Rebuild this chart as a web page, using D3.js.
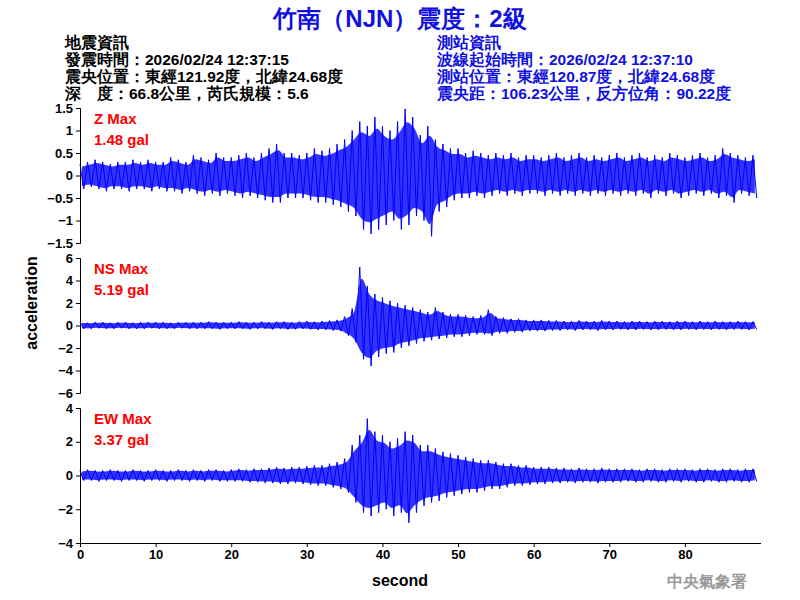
<!DOCTYPE html>
<html><head><meta charset="utf-8">
<script src="https://cdn.jsdelivr.net/npm/d3@7"></script>
<style>body{margin:0;background:#fff}text{font-family:"Liberation Sans",Arial,sans-serif}</style>
</head><body><svg id="c" width="800" height="600"></svg>
<script>
// per-second envelope (max / min), seconds 0..89
const seconds = d3.range(90);
const zHi = [.25,.3,.35,.3,.25,.3,.3,.35,.3,.35, .3,.3,.4,.35,.3,.45,.4,.35,.5,.4, .4,.45,.5,.4,.5,.6,.7,.5,.5,.45, .5,.6,.55,.6,.7,.8,1.0,1.2,1.1,1.3, 1.1,1.0,1.2,1.48,1.3,.9,1.1,.8,.7,.6, .6,.5,.55,.5,.45,.5,.45,.5,.4,.45, .45,.4,.45,.5,.4,.45,.5,.4,.45,.4, .45,.5,.4,.45,.5,.4,.45,.4,.5,.45, .4,.45,.5,.4,.45,.6,.5,.45,.4,.45];
const zLo = [-.3,-.25,-.3,-.35,-.3,-.3,-.35,-.3,-.3,-.35, -.3,-.35,-.35,-.4,-.35,-.4,-.45,-.4,-.45,-.4, -.45,-.5,-.45,-.5,-.55,-.6,-.6,-.5,-.5,-.5, -.55,-.6,-.6,-.65,-.7,-.8,-.9,-1.2,-1.3,-1.2, -1.1,-1.0,-1.2,-1.1,-.9,-1.0,-1.35,-.8,-.7,-.55, -.5,-.5,-.45,-.5,-.45,-.4,-.45,-.4,-.45,-.4, -.4,-.45,-.4,-.45,-.4,-.45,-.4,-.45,-.4,-.45, -.4,-.45,-.4,-.45,-.4,-.5,-.4,-.45,-.4,-.5, -.45,-.4,-.45,-.4,-.5,-.45,-.6,-.4,-.45,-.5];
const nsHi = [.3,.25,.3,.3,.25,.3,.3,.25,.3,.3, .3,.3,.25,.3,.3,.3,.3,.35,.3,.3, .3,.35,.3,.3,.35,.3,.35,.35,.3,.35, .4,.35,.4,.45,.5,.8,1.5,5.19,3.5,2.8, 2.5,2.2,2.0,1.8,1.6,1.4,1.2,1.6,1.2,1.0, 1.0,.9,.8,.9,1.4,.8,.7,.6,.6,.5, .5,.5,.45,.45,.4,.4,.45,.4,.4,.45, .4,.4,.35,.4,.4,.35,.4,.4,.35,.4, .4,.35,.4,.35,.4,.35,.35,.4,.35,.35];
const nsLo = [-.3,-.3,-.25,-.3,-.3,-.25,-.3,-.3,-.3,-.25, -.3,-.3,-.3,-.25,-.3,-.3,-.3,-.3,-.35,-.3, -.3,-.3,-.35,-.3,-.3,-.35,-.3,-.35,-.35,-.3, -.35,-.4,-.4,-.45,-.5,-.9,-1.5,-3.0,-3.6,-2.8, -2.5,-2.4,-2.0,-1.8,-1.6,-1.4,-1.3,-1.2,-1.1,-1.0, -1.0,-.9,-.8,-.8,-.9,-.7,-.7,-.6,-.6,-.5, -.5,-.5,-.45,-.45,-.4,-.45,-.4,-.4,-.45,-.4, -.4,-.35,-.4,-.4,-.35,-.4,-.4,-.35,-.4,-.4, -.35,-.4,-.35,-.4,-.35,-.4,-.35,-.35,-.4,-.35];
const ewHi = [.3,.35,.3,.3,.35,.3,.3,.35,.3,.3, .35,.3,.3,.35,.3,.35,.3,.35,.35,.3, .35,.4,.35,.4,.4,.45,.5,.45,.5,.5, .55,.6,.6,.7,.8,1.0,1.8,2.4,3.37,2.6, 2.4,2.0,2.2,2.6,2.4,1.8,1.8,1.6,1.4,1.3, 1.2,1.1,1.0,.9,.9,.8,.7,.7,.6,.6, .5,.5,.5,.45,.45,.4,.45,.4,.4,.45, .4,.4,.4,.4,.35,.4,.4,.35,.4,.4, .4,.35,.4,.4,.35,.4,.4,.35,.4,.4];
const ewLo = [-.3,-.3,-.35,-.3,-.3,-.35,-.3,-.3,-.35,-.3, -.3,-.35,-.3,-.3,-.35,-.3,-.35,-.3,-.35,-.35, -.35,-.35,-.4,-.4,-.45,-.45,-.5,-.5,-.45,-.5, -.55,-.6,-.6,-.7,-.8,-1.0,-1.6,-2.2,-2.4,-2.2, -2.0,-2.4,-2.2,-2.8,-2.2,-1.8,-1.6,-1.5,-1.3,-1.2, -1.1,-1.0,-1.0,-.9,-.8,-.8,-.7,-.6,-.6,-.55, -.5,-.5,-.45,-.45,-.4,-.45,-.4,-.4,-.45,-.4, -.4,-.4,-.35,-.4,-.4,-.35,-.4,-.4,-.35,-.4, -.35,-.4,-.4,-.35,-.4,-.4,-.35,-.4,-.4,-.35];
const xTicks = [0,10,20,30,40,50,60,70,80];
const zTicks = [-1.5,-1,-0.5,0,0.5,1,1.5];
const nsTicks = [-6,-4,-2,0,2,4,6];
const ewTicks = [-4,-2,0,2,4];
const panels = [
 {name:"Z Max", max:"1.48 gal", hi:zHi, lo:zLo, dom:[-1.5,1.5], ticks:zTicks, top:108, bot:243},
 {name:"NS Max", max:"5.19 gal", hi:nsHi, lo:nsLo, dom:[-6,6], ticks:nsTicks, top:258, bot:393},
 {name:"EW Max", max:"3.37 gal", hi:ewHi, lo:ewLo, dom:[-4,4], ticks:ewTicks, top:408, bot:543}
];
const leftInfo = ["地震資訊","發震時間：2026/02/24 12:37:15","震央位置：東經121.92度，北緯24.68度","深　度：66.8公里，芮氏規模：5.6"];
const rightInfo = ["測站資訊","波線起始時間：2026/02/24 12:37:10","測站位置：東經120.87度，北緯24.68度","震央距：106.23公里，反方位角：90.22度"];

const svg = d3.select("#c");
const x = d3.scaleLinear().domain([0,90]).range([80,760.5]);
svg.append("text").attr("x",400).attr("y",27).attr("text-anchor","middle").attr("fill","#1010e0")
 .attr("font-size",24).attr("font-weight","bold").text("竹南（NJN）震度：2級");
leftInfo.forEach((t,i)=>svg.append("text").attr("x",65).attr("y",48+i*17).attr("font-size",15.5).attr("font-weight","bold").attr("fill","#000").text(t));
rightInfo.forEach((t,i)=>svg.append("text").attr("x",437).attr("y",48+i*17).attr("font-size",15.5).attr("font-weight","bold").attr("fill","#1010e0").text(t));

panels.forEach((p,k)=>{
 const y = d3.scaleLinear().domain(p.dom).range([p.bot,p.top]);
 const band = seconds.map(s=>({t:s+0.25, hi:p.hi[s]*0.8, lo:p.lo[s]*0.8}));
 svg.append("path").attr("d",d3.area().x(d=>x(d.t)).y0(d=>y(d.lo)).y1(d=>y(d.hi)).curve(d3.curveMonotoneX)(band))
  .attr("fill","#0000ff").attr("opacity",0.8);
 const pts=[];
 seconds.forEach(s=>{pts.push([s,p.hi[s]]);pts.push([s+0.5,p.lo[s]]);});
 svg.append("path").attr("d",d3.line().x(d=>x(d[0])).y(d=>y(d[1]))(pts))
  .attr("fill","none").attr("stroke","#0000ff").attr("stroke-width",1);
 const ax = svg.append("g").attr("transform","translate(80,0)").call(d3.axisLeft(y).tickValues(p.ticks).tickSize(4).tickFormat(d3.format("~g")));
 ax.selectAll("text").attr("font-size",13).attr("font-weight","bold").attr("fill","#000");
 ax.select(".domain").attr("stroke","#000");
 svg.append("text").attr("x",94).attr("y",p.top+16).attr("fill","#ff0000").attr("font-size",15).attr("font-weight","bold").text(p.name);
 svg.append("text").attr("x",94).attr("y",p.top+37).attr("fill","#ff0000").attr("font-size",15).attr("font-weight","bold").text(p.max);
});
const xa = svg.append("g").attr("transform","translate(0,543)").call(d3.axisBottom(x).tickValues(xTicks).tickSize(4).tickSizeOuter(0));
xa.selectAll("text").attr("font-size",13).attr("font-weight","bold").attr("fill","#000");
svg.append("text").attr("x",400).attr("y",586).attr("text-anchor","middle").attr("font-size",16).attr("font-weight","bold").text("second");
svg.append("text").attr("transform","translate(37,303) rotate(-90)").attr("text-anchor","middle").attr("font-size",16).attr("font-weight","bold").text("acceleration");
svg.append("text").attr("x",747).attr("y",587).attr("text-anchor","end").attr("font-size",16).attr("font-weight","bold").attr("fill","#999").attr("font-family","Noto Sans CJK TC").text("中央氣象署");
</script></body></html>
